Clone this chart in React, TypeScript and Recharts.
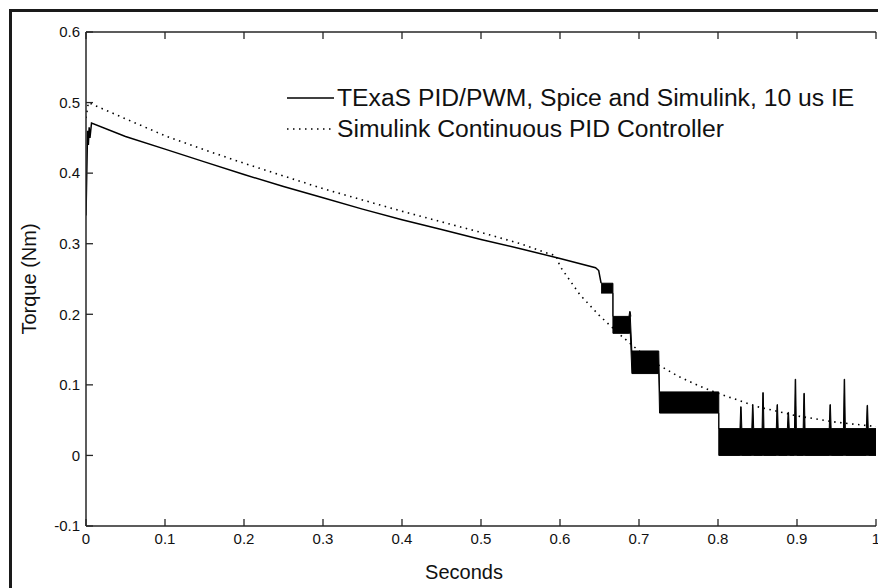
import React from "react";
import { ComposedChart, Line, Area, XAxis, YAxis, Legend } from "recharts";

const FONT = "'Liberation Sans', Arial, Helvetica, sans-serif";
const INK = "#111";
const AXIS_INK = "#262626";

const xTicks = [0, 0.1, 0.2, 0.3, 0.4, 0.5, 0.6, 0.7, 0.8, 0.9, 1];
const yTicks = [-0.1, 0, 0.1, 0.2, 0.3, 0.4, 0.5, 0.6];

const PWM_NAME = "TExaS PID/PWM, Spice and Simulink, 10 us IE";
const CONT_NAME = "Simulink Continuous PID Controller";

// PWM run, smooth part before the load steps
const pwmTrend = [
  { t: 0, v: 0.34 },
  { t: 0.002, v: 0.46 },
  { t: 0.003, v: 0.44 },
  { t: 0.004, v: 0.465 },
  { t: 0.005, v: 0.45 },
  { t: 0.007, v: 0.471 },
  { t: 0.05, v: 0.452 },
  { t: 0.1, v: 0.434 },
  { t: 0.15, v: 0.416 },
  { t: 0.2, v: 0.398 },
  { t: 0.25, v: 0.381 },
  { t: 0.3, v: 0.365 },
  { t: 0.35, v: 0.349 },
  { t: 0.4, v: 0.334 },
  { t: 0.45, v: 0.32 },
  { t: 0.5, v: 0.306 },
  { t: 0.55, v: 0.293 },
  { t: 0.6, v: 0.279 },
  { t: 0.645, v: 0.266 },
  { t: 0.649, v: 0.262 },
  { t: 0.652, v: 0.244 },
];

// PWM ripple envelope on each step (low / high)
const pwmBands = [
  { from: 0.652, to: 0.667, lo: 0.23, hi: 0.244 },
  { from: 0.667, to: 0.689, lo: 0.173, hi: 0.197 },
  { from: 0.691, to: 0.725, lo: 0.116, hi: 0.148 },
  { from: 0.726, to: 0.801, lo: 0.06, hi: 0.09 },
  { from: 0.801, to: 1, lo: 0, hi: 0.038 },
];

const pwmSpikes = [
  { t: 0.6885, top: 0.204 },
  { t: 0.829, top: 0.069 },
  { t: 0.844, top: 0.071 },
  { t: 0.857, top: 0.089 },
  { t: 0.875, top: 0.072 },
  { t: 0.889, top: 0.061 },
  { t: 0.898, top: 0.108 },
  { t: 0.909, top: 0.088 },
  { t: 0.942, top: 0.072 },
  { t: 0.96, top: 0.108 },
  { t: 0.989, top: 0.071 },
];

const continuousPid = [
  { t: 0, v: 0.478 },
  { t: 0.003, v: 0.5 },
  { t: 0.05, v: 0.477 },
  { t: 0.1, v: 0.453 },
  { t: 0.15, v: 0.433 },
  { t: 0.2, v: 0.414 },
  { t: 0.25, v: 0.396 },
  { t: 0.3, v: 0.378 },
  { t: 0.35, v: 0.362 },
  { t: 0.4, v: 0.346 },
  { t: 0.45, v: 0.331 },
  { t: 0.5, v: 0.316 },
  { t: 0.55, v: 0.3 },
  { t: 0.58, v: 0.288 },
  { t: 0.595, v: 0.283 },
  { t: 0.6, v: 0.268 },
  { t: 0.625, v: 0.228 },
  { t: 0.65, v: 0.198 },
  { t: 0.675, v: 0.172 },
  { t: 0.7, v: 0.148 },
  { t: 0.725, v: 0.128 },
  { t: 0.75, v: 0.112 },
  { t: 0.775, v: 0.099 },
  { t: 0.8, v: 0.088 },
  { t: 0.85, v: 0.069 },
  { t: 0.9, v: 0.056 },
  { t: 0.95, v: 0.047 },
  { t: 1, v: 0.041 },
];

const DOTS = "1.5 4.5";

// ripple band with the spikes sitting on top of it
const bandData: { t: number; band: [number, number] }[] = [];
pwmBands.forEach((b) => {
  bandData.push({ t: b.from, band: [b.lo, b.hi] });
  pwmSpikes
    .filter((s) => s.t > b.from && s.t < b.to)
    .forEach((s) => {
      bandData.push({ t: s.t - 0.0012, band: [b.lo, b.hi] });
      bandData.push({ t: s.t - 0.0003, band: [b.lo, s.top] });
      bandData.push({ t: s.t + 0.0003, band: [b.lo, s.top] });
      bandData.push({ t: s.t + 0.0012, band: [b.lo, b.hi] });
    });
  bandData.push({ t: b.to, band: [b.lo, b.hi] });
});

const TICK = { fontFamily: FONT, fontSize: 15, fill: INK };
const TICK_LINE = { stroke: AXIS_INK, strokeWidth: 1.3 };
const AXIS_LINE = { stroke: AXIS_INK, strokeWidth: 1.5 };
const noLabel = () => <g />;

function YTitle(props: any) {
  const vb = props.viewBox || { y: 32, height: 494 };
  const x = 36;
  const y = vb.y + vb.height / 2;
  return (
    <text x={x} y={y} transform={`rotate(-90 ${x} ${y})`} textAnchor="middle" fontFamily={FONT} fontSize={20} fill={INK}>
      Torque (Nm)
    </text>
  );
}

function XTitle(props: any) {
  const vb = props.viewBox || { x: 86, width: 790 };
  return (
    <text x={vb.x + vb.width / 2 - 17} y={579} textAnchor="middle" fontFamily={FONT} fontSize={20} fill={INK}>
      Seconds
    </text>
  );
}

function LegendBox() {
  const rows = [
    { name: PWM_NAME, dash: undefined as string | undefined },
    { name: CONT_NAME, dash: DOTS },
  ];
  return (
    <div style={{ fontFamily: FONT, fontSize: 24.7, color: INK, lineHeight: "31px" }}>
      {rows.map((r) => (
        <div key={r.name} style={{ display: "flex", alignItems: "center", height: 31, whiteSpace: "nowrap" }}>
          <svg width={50} height={4} style={{ flex: "none" }}>
            <line x1={0} y1={2} x2={47} y2={2} stroke="#000" strokeWidth={1.5} strokeDasharray={r.dash} />
          </svg>
          <span>{r.name}</span>
        </div>
      ))}
    </div>
  );
}

export default function App() {
  return (
    <div style={{ position: "absolute", left: 0, top: 0, width: 878, height: 588, background: "#fff", overflow: "hidden" }}>
      <div
        style={{
          position: "absolute",
          left: 9,
          top: 9,
          right: -10,
          bottom: -10,
          borderTop: "3px solid #1a1a1a",
          borderLeft: "3px solid #1a1a1a",
        }}
      />
      <ComposedChart width={878} height={588} margin={{ top: 31, right: 2, bottom: 0, left: 0 }} style={{ position: "absolute", left: 0, top: 0 }}>
        <XAxis
          dataKey="t"
          type="number"
          domain={[0, 1]}
          ticks={xTicks}
          interval={0}
          allowDataOverflow
          height={62}
          tickSize={-7}
          tickMargin={14}
          tickLine={TICK_LINE}
          tick={TICK}
          axisLine={AXIS_LINE}
          label={<XTitle />}
        />
        <XAxis
          xAxisId="top"
          dataKey="t"
          type="number"
          domain={[0, 1]}
          ticks={xTicks}
          interval={0}
          allowDataOverflow
          orientation="top"
          height={1}
          tick={noLabel}
          tickSize={-7}
          tickLine={TICK_LINE}
          axisLine={AXIS_LINE}
        />
        <YAxis
          type="number"
          domain={[-0.1, 0.6]}
          ticks={yTicks}
          interval={0}
          allowDataOverflow
          width={86}
          tickSize={-7}
          tickMargin={13}
          tickLine={TICK_LINE}
          tick={TICK}
          tickFormatter={(v: number) => String(v)}
          axisLine={AXIS_LINE}
          label={<YTitle />}
        />
        <YAxis
          yAxisId="right"
          type="number"
          domain={[-0.1, 0.6]}
          ticks={yTicks}
          interval={0}
          allowDataOverflow
          orientation="right"
          width={0}
          tick={noLabel}
          tickSize={-7}
          tickLine={TICK_LINE}
          axisLine={AXIS_LINE}
        />
        <Legend
          layout="horizontal"
          verticalAlign="middle"
          align="center"
          wrapperStyle={{ left: 287, top: 82, width: "auto" }}
          content={<LegendBox />}
        />
        <Area
          data={bandData}
          dataKey="band"
          name={PWM_NAME}
          legendType="none"
          type="linear"
          stroke="#000"
          strokeWidth={1}
          fill="#000"
          fillOpacity={1}
          isAnimationActive={false}
        />
        <Line
          data={pwmTrend}
          dataKey="v"
          name={PWM_NAME}
          type="linear"
          stroke="#000"
          strokeWidth={1.5}
          dot={false}
          activeDot={false}
          isAnimationActive={false}
        />
        {/* same [0,1] domain as the bottom axis; bound to the top axis so that one gets drawn */}
        <Line
          xAxisId="top"
          data={continuousPid}
          dataKey="v"
          name={CONT_NAME}
          type="linear"
          stroke="#000"
          strokeWidth={1.6}
          strokeDasharray={DOTS}
          dot={false}
          activeDot={false}
          isAnimationActive={false}
        />
      </ComposedChart>
    </div>
  );
}
